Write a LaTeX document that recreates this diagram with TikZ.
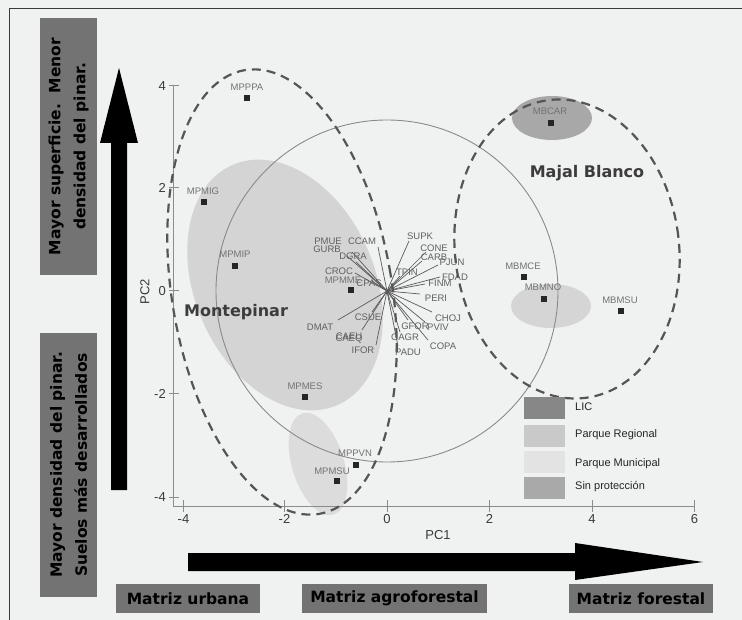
\documentclass[tikz,border=0pt]{standalone}
\usepackage{fontspec}
\setmainfont{Liberation Sans}
\newfontfamily\dejavu{DejaVu Sans}
\newcommand\myboldfont{\dejavu\bfseries\fontsize{15.5}{25}\selectfont}
\definecolor{bgc}{HTML}{F0F1F1}
\definecolor{framec}{HTML}{3A3A3A}
\definecolor{boxc}{HTML}{737373}
\definecolor{licc}{HTML}{878787}
\definecolor{pregc}{HTML}{C9C9C9}
\definecolor{pmunc}{HTML}{E3E3E3}
\definecolor{sinpc}{HTML}{A9A9A9}
\definecolor{montec}{HTML}{D4D4D4}
\definecolor{smallc}{HTML}{DCDCDC}
\definecolor{mbcarc}{HTML}{A8A8A8}
\definecolor{mbmnoc}{HTML}{D5D5D5}
\definecolor{axisc}{HTML}{8C8C8C}
\definecolor{circc}{HTML}{8A8A8A}
\definecolor{dashc}{HTML}{555555}
\definecolor{vecc}{HTML}{5A5A5A}
\definecolor{lblc}{HTML}{727272}
\definecolor{vlblc}{HTML}{606060}
\definecolor{tickc}{HTML}{3A3A3A}
\definecolor{regc}{HTML}{3C3C3C}
\tikzset{
 lbl/.style={font=\fontsize{9.5}{10}\selectfont, text=lblc, inner sep=0pt},
 vlbl/.style={font=\fontsize{9.5}{10}\selectfont, text=vlblc, inner sep=0pt},
 ptbox/.style={rectangle, fill=black!85, minimum size=6pt, inner sep=0pt},
 vec/.style={draw=vecc, line width=0.7pt},
 dashell/.style={draw=dashc, line width=2.2pt, dash pattern=on 9pt off 6pt},
 tickline/.style={draw=axisc, line width=1pt},
 ticklbl/.style={font=\fontsize{13}{13}\selectfont, text=tickc, inner sep=0pt},
 gbox/.style={fill=boxc, inner sep=0pt, font=\myboldfont, text=black},
 legbox/.style={minimum width=41pt, minimum height=22pt, inner sep=0pt},
 leglbl/.style={font=\fontsize{11}{11}\selectfont, anchor=west, inner sep=0pt, text=black!85},
 region/.style={font=\dejavu\bfseries\fontsize{16}{16}\selectfont, text=regc, inner sep=0pt},
}
\begin{document}
\begin{tikzpicture}[x=1pt,y=-1pt]
\fill[bgc] (0,0) rectangle (742,620);
\useasboundingbox (0,0) rectangle (742,620);
\draw[framec, line width=1pt] (9,620) -- (9,9) -- (742,9);

% shaded regions
\fill[montec, rotate around={23.6:(285,285)}] (285,285) ellipse [x radius=90pt, y radius=131pt];
\fill[smallc, rotate around={17:(318,464)}] (318,464) ellipse [x radius=26pt, y radius=53pt];
\fill[mbcarc] (552,118) ellipse [x radius=40pt, y radius=22pt];
\fill[mbmnoc] (551,306) ellipse [x radius=40pt, y radius=22pt];

% axes
\draw[tickline] (173,86) -- (173,506) -- (695,506);
\foreach \yy/\tl in {86/4,188/2,291/0,394/-2,497/-4}{
  \draw[tickline] (169,\yy) -- (179,\yy);
  \node[ticklbl, anchor=east] at (166,\yy) {\tl};
}
\foreach \xx/\tl in {183.5/-4,284.5/-2,387/0,489.5/2,592/4,694.5/6}{
  \draw[tickline] (\xx,500) -- (\xx,512);
  \node[ticklbl] at (\xx,519) {\tl};
}
\node[ticklbl] (pc1) at (438,535) {PC1};
\node[ticklbl, rotate=90] (pc2) at (145,292) {PC2};

% circle of correlations
\draw[circc, line width=0.9pt] (387,291) circle [radius=171pt];

% dashed group ellipses
\draw[dashell, rotate around={9.5:(282,292)}] (282,292) ellipse [x radius=110pt, y radius=225pt];
\draw[dashell, rotate around={7:(567,249)}] (567,249) ellipse [x radius=112pt, y radius=150pt];

% vectors
\coordinate (o) at (387,291);
\foreach \nm/\ex/\ey/\lx/\ly in {
  PMUE/352/252/328/241, CCAM/378/247/362/241, GURB/347/256/327/249,
  DGRA/356/262/353/256, CROC/355/273/339/271, CPAS/372/281/369/283,
  SUPK/409/241/420/236, CONE/426/252/434/248, CARB/422/261/434/257,
  PJUN/438/265/452/262, TPIN/400/276/407/272, FDAD/440/277/455/277,
  FINM/425/284/440/283, PERI/420/294/436/298, CHOJ/432/312/448/318,
  PVIV/425/322/438/327, GFOR/408/320/415/326, GAGR/400/332/405/337,
  COPA/428/340/443/346, PADU/398/346/408/352, IFOR/376/345/363/350,
  CSUE/372/312/368/317, CAEU/362/330/349/336, DMAT/338/320/320/327}{
  \coordinate (e\nm) at (\ex,\ey);
  \draw[vec] (o) -- (e\nm);
  \node[vlbl] (l\nm) at (\lx,\ly) {\nm};
}
\node[vlbl] (lCAEQ) at (349,339.5) {CAEQ};

% sample points
\foreach \nm/\px/\py/\lx/\ly in {
  MPPPA/247/98/247/87, MPMIG/204/202/203/191, MPMIP/235/266/235/254,
  MPMME/351/290/343/280, MPMES/305/397/305/386, MPPVN/356/465/355/453,
  MPMSU/337/481/332/471, MBCAR/551/123/550/111, MBMCE/524/277/523/266,
  MBMNO/544/299/543/287, MBMSU/621/311/620/300}{
  \node[ptbox] (p\nm) at (\px,\py) {};
  \node[lbl] (t\nm) at (\lx,\ly) {\nm};
}

% region names
\node[region] (monte) at (236,312) {Montepinar};
\node[region] (majal) at (587,173) {Majal Blanco};

% legend
\node[legbox, fill=licc] (k1) at (544.5,408) {};
\node[legbox, fill=pregc] (k2) at (544.5,436) {};
\node[legbox, fill=pmunc] (k3) at (544.5,461.5) {};
\node[legbox, fill=sinpc] (k4) at (544.5,488) {};
\node[leglbl] (k1l) at (575,407) {LIC};
\node[leglbl] (k2l) at (575,435) {Parque Regional};
\node[leglbl] (k3l) at (575,464) {Parque Municipal};
\node[leglbl] (k4l) at (575,487) {Sin protección};

% big arrows
\fill[black] (111,490) -- (111,143) -- (100,143) -- (119,68) -- (138,143) -- (127,143) -- (127,490) -- cycle;
\fill[black] (188,553) -- (575,553) -- (575,543) -- (703,562) -- (575,580) -- (575,571) -- (188,571) -- cycle;

% left boxes
\node[gbox, rotate=90, minimum width=257pt, minimum height=57pt, align=center] (topbox) at (68.5,146.5)
  {Mayor superficie.\ \ Menor\\densidad del pinar.};
\node[gbox, rotate=90, minimum width=264pt, minimum height=57pt, align=center] (botbox) at (68.5,465)
  {Mayor densidad del pinar.\\Suelos más desarrollados};

% bottom boxes
\node[gbox, minimum width=144pt, minimum height=29pt] (urb) at (188,598.5) {Matriz urbana};
\node[gbox, minimum width=185pt, minimum height=29pt] (agro) at (394.5,598.5) {Matriz agroforestal};
\node[gbox, minimum width=144pt, minimum height=29pt] (forest) at (641,598.5) {Matriz forestal};
\end{tikzpicture}
\end{document}
